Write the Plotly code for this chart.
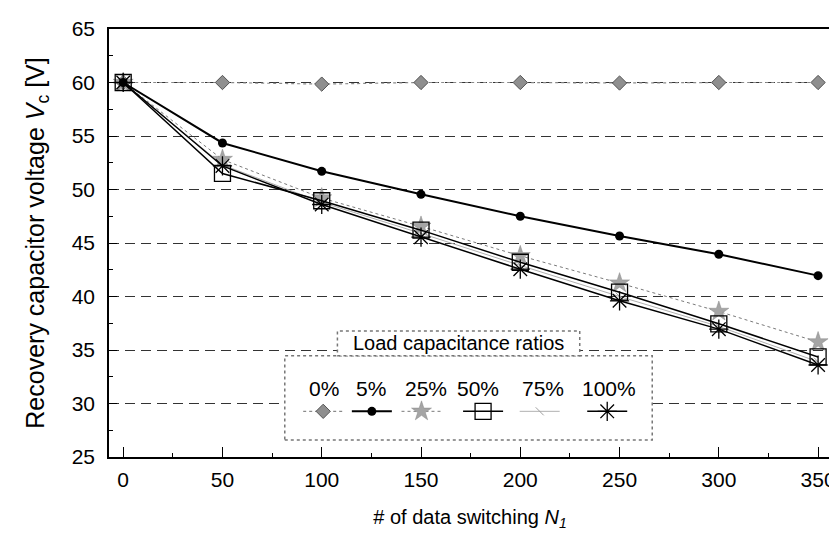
import plotly.graph_objects as go

# ---------------- data ----------------
switching = [0, 50, 100, 150, 200, 250, 300, 350]
ratio_labels = ["0%", "5%", "25%", "50%", "75%", "100%"]
vc_0 = [60, 60, 59.85, 60, 60, 59.95, 60, 60]
vc_5 = [60, 54.35, 51.7, 49.55, 47.5, 45.65, 43.95, 41.95]
vc_25 = [60, 52.8, 49.2, 46.55, 43.8, 41.25, 38.6, 35.75]
vc_50 = [60, 51.5, 48.95, 46.2, 43.2, 40.4, 37.45, 34.35]
vc_75 = [60, 52.3, 48.8, 45.9, 42.9, 40.0, 37.2, 33.9]
vc_100 = [60, 52.2, 48.6, 45.55, 42.55, 39.6, 36.95, 33.6]
x_ticks = [0, 50, 100, 150, 200, 250, 300, 350]
y_ticks = [25, 30, 35, 40, 45, 50, 55, 60, 65]
legend_title = "Load capacitance ratios"

series = [vc_0, vc_5, vc_25, vc_50, vc_75, vc_100]

# ---------------- styles ----------------
styles = [
    dict(line=dict(color="#8a8a8a", width=1.2, dash="dot"),
         marker=dict(symbol="diamond", size=11, color="#8f8f8f", line=dict(color="#555", width=1))),
    dict(line=dict(color="black", width=2),
         marker=dict(symbol="circle", size=9, color="black")),
    dict(line=dict(color="#7a7a7a", width=1, dash="dot"),
         marker=dict(symbol="star", size=15, color="#a5a5a5", line=dict(color="#888", width=0.5))),
    dict(line=dict(color="black", width=1.5),
         marker=dict(symbol="square-open", size=16, color="black", line=dict(width=1.3))),
    dict(line=dict(color="#b0b0b0", width=1),
         marker=dict(symbol="line-nw-open", size=8, color="#a0a0a0", line=dict(width=1))),
    dict(line=dict(color="black", width=1.5),
         marker=dict(symbol="asterisk-open", size=16, color="black", line=dict(width=1.3))),
]

# plot area in pixels
L, R, T, B = 101, 828, 18, 449
W, H = 837, 533


def px_x(p):
    return (p - L) / (R - L)


def px_y(p):
    return (B - p) / (B - T)


legend_sym_x = [317, 366, 416, 478, 535, 603]
legend_lab_x = [317, 365, 420, 473, 538, 604]
legend_sym_y = 403
legend_lab_y = 380

fig = go.Figure()
draw_order = [0, 2, 4, 3, 5, 1]
for i in draw_order:
    lg = "legend" if i == 0 else f"legend{i + 1}"
    fig.add_trace(go.Scatter(
        x=switching, y=series[i], mode="lines+markers", name=" ",
        legend=lg, showlegend=True, **styles[i]))

font_family = "Arial, Liberation Sans, sans-serif"

legends = {}
for i in range(6):
    key = "legend" if i == 0 else f"legend{i + 1}"
    legends[key] = dict(
        x=px_x(legend_sym_x[i] - 25.5), xanchor="left",
        y=px_y(legend_sym_y), yanchor="middle",
        bgcolor="rgba(0,0,0,0)", borderwidth=0,
        font=dict(size=10, family=font_family),
        itemwidth=40, orientation="h",
    )

fig.update_layout(
    width=W, height=H,
    margin=dict(l=L, r=W - R, t=T, b=H - B),
    plot_bgcolor="white", paper_bgcolor="white",
    font=dict(family=font_family, color="black", size=21),
    **legends,
)

fig.update_xaxes(
    range=[-7.15, 356.5], tickvals=x_ticks, ticks="inside", ticklen=10,
    tickwidth=1.2, tickcolor="black",
    minor=dict(dtick=25, ticks="inside", ticklen=4, tickcolor="black", showgrid=False),
    showline=True, linecolor="black", linewidth=1.5, mirror=True,
    showgrid=False, zeroline=False,
    tickfont=dict(size=21), ticklabelstandoff=3,
    title=dict(text="# of data switching <i>N</i><sub><i>1</i></sub>", font=dict(size=20), standoff=20),
)
fig.update_yaxes(
    range=[25, 65], tickvals=y_ticks, ticks="inside", ticklen=8,
    tickwidth=1.2, tickcolor="black",
    minor=dict(dtick=2.5, ticks="inside", ticklen=4, tickcolor="black", showgrid=False),
    showline=True, linecolor="black", linewidth=1.5, mirror=True,
    showgrid=True, gridcolor="#333", gridwidth=1, griddash="10px,6px",
    zeroline=False,
    tickfont=dict(size=21), ticklabelstandoff=8,
    title=dict(text="Recovery capacitor voltage <i>V</i><sub>c</sub> [V]", font=dict(size=25), standoff=20),
)

# legend frame and title frame
fig.add_shape(type="rect", xref="paper", yref="paper",
              x0=px_x(278), x1=px_x(648), y0=px_y(432), y1=px_y(347),
              line=dict(color="#777", width=1.5, dash="dot"), fillcolor="white", layer="above")
fig.add_shape(type="rect", xref="paper", yref="paper",
              x0=px_x(331), x1=px_x(575), y0=px_y(347), y1=px_y(322),
              line=dict(color="#777", width=1.5, dash="dot"), fillcolor="white", layer="above")
fig.add_annotation(xref="paper", yref="paper", x=px_x(453), y=px_y(334.5),
                   text=legend_title, showarrow=False, font=dict(size=20),
                   xanchor="center", yanchor="middle")
for i, lab in enumerate(ratio_labels):
    fig.add_annotation(xref="paper", yref="paper", x=px_x(legend_lab_x[i]), y=px_y(legend_lab_y),
                       text=lab, showarrow=False, font=dict(size=21),
                       xanchor="center", yanchor="middle")

fig.write_html("out.html")
